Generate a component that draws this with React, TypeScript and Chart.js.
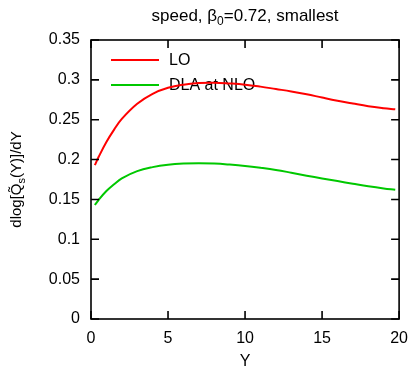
import { useEffect, useRef } from "react";
import { Chart, registerables } from "chart.js";
Chart.register(...registerables);

const FONT = '"Liberation Sans", Arial, Helvetica, sans-serif';

// Y values (horizontal axis)
const xValues = [0.25, 0.5, 1, 1.5, 2, 3, 4, 5, 6, 7, 8, 9, 10, 11, 12, 13, 14, 15, 16, 17, 18, 19, 19.75];
// LO (red)
const loValues = [0.193, 0.2035, 0.222, 0.2375, 0.251, 0.27, 0.2825, 0.29, 0.294, 0.296, 0.2965, 0.2955, 0.294, 0.2915, 0.2885, 0.2855, 0.282, 0.2778, 0.2738, 0.2703, 0.267, 0.2645, 0.263];
// DLA at NLO (green)
const dlaValues = [0.143, 0.1495, 0.1605, 0.169, 0.1765, 0.1855, 0.1905, 0.1935, 0.195, 0.1955, 0.195, 0.1937, 0.192, 0.1897, 0.187, 0.1835, 0.1798, 0.1763, 0.173, 0.1697, 0.1665, 0.1638, 0.1622];

const seriesLabels = ["LO", "DLA at NLO"];
const seriesColors = ["#ff0000", "#00c800"];
const xTicks = [0, 5, 10, 15, 20];
const yTicks = [0, 0.05, 0.1, 0.15, 0.2, 0.25, 0.3, 0.35];

const decorPlugin = {
  id: "decor",
  beforeDatasetsDraw(chart: any) {
    const { ctx, chartArea } = chart;
    ctx.save();
    // legend
    ctx.font = `16px ${FONT}`;
    ctx.textBaseline = "middle";
    ctx.textAlign = "left";
    seriesLabels.forEach((lab, i) => {
      const y = chartArea.top + 20 + i * 25;
      ctx.strokeStyle = seriesColors[i];
      ctx.lineWidth = 2;
      ctx.beginPath();
      ctx.moveTo(chartArea.left + 20, y);
      ctx.lineTo(chartArea.left + 68, y);
      ctx.stroke();
      ctx.fillStyle = "#000";
      ctx.fillText(lab, chartArea.left + 78, y + 1);
    });
    ctx.restore();
  },
  afterDraw(chart: any) {
    const { ctx, chartArea, scales } = chart;
    const { left, right, top, bottom } = chartArea;
    ctx.save();
    // frame
    ctx.strokeStyle = "#000";
    ctx.lineWidth = 1.6;
    ctx.strokeRect(left, top, right - left, bottom - top);
    // inward ticks
    const tl = 8;
    ctx.beginPath();
    xTicks.forEach((v) => {
      const px = scales.x.getPixelForValue(v);
      ctx.moveTo(px, bottom);
      ctx.lineTo(px, bottom - tl);
      ctx.moveTo(px, top);
      ctx.lineTo(px, top + tl);
    });
    yTicks.forEach((v) => {
      const py = scales.y.getPixelForValue(v);
      ctx.moveTo(left, py);
      ctx.lineTo(left + tl, py);
      ctx.moveTo(right, py);
      ctx.lineTo(right - tl, py);
    });
    ctx.stroke();

    ctx.fillStyle = "#000";
    // title: speed, β0=0.72, smallest
    const big = `17px ${FONT}`;
    const small = `12px ${FONT}`;
    const parts: [string, string, number][] = [
      ["speed, β", big, 0],
      ["0", small, 4],
      ["=0.72, smallest", big, 0],
    ];
    const drawParts = (ps: [string, string, number][], cx: number, by: number) => {
      let w = 0;
      ps.forEach(([t, f]) => {
        ctx.font = f;
        w += ctx.measureText(t).width;
      });
      let x = cx - w / 2;
      ctx.textAlign = "left";
      ctx.textBaseline = "alphabetic";
      ps.forEach(([t, f, dy]) => {
        ctx.font = f;
        ctx.fillText(t, x, by + dy);
        x += ctx.measureText(t).width;
      });
    };
    drawParts(parts, (left + right) / 2, 21);

    // x axis title
    ctx.font = `16px ${FONT}`;
    ctx.textAlign = "center";
    ctx.textBaseline = "alphabetic";
    ctx.fillText("Y", (left + right) / 2, 366);

    // y axis title
    ctx.save();
    ctx.translate(21, (top + bottom) / 2);
    ctx.rotate(-Math.PI / 2);
    const yparts: [string, string, number][] = [
      ["dlog[Q\u0303", `15px ${FONT}`, 0],
      ["s", `11px ${FONT}`, 4],
      ["(Y)]/dY", `15px ${FONT}`, 0],
    ];
    drawParts(yparts, 0, 0);
    ctx.restore();

    ctx.restore();
  },
};

export default function App() {
  const ref = useRef<HTMLCanvasElement>(null);
  useEffect(() => {
    const tickFont = { family: FONT, size: 16 };
    const chart = new Chart(ref.current!, {
      type: "line",
      data: {
        datasets: [loValues, dlaValues].map((vals, i) => ({
          label: seriesLabels[i],
          data: xValues.map((x, j) => ({ x, y: vals[j] })),
          borderColor: seriesColors[i],
          backgroundColor: seriesColors[i],
          borderWidth: 2,
          pointRadius: 0,
          fill: false,
          tension: 0.4,
        })),
      },
      options: {
        responsive: false,
        animation: false,
        layout: { padding: { top: 40, right: 11, left: 0, bottom: 0 } },
        plugins: {
          legend: { display: false },
          title: { display: false },
          tooltip: { enabled: false },
        },
        scales: {
          x: {
            type: "linear",
            min: 0,
            max: 20,
            afterBuildTicks: (s: any) => {
              s.ticks = xTicks.map((v) => ({ value: v }));
            },
            ticks: { padding: 10, color: "#000", font: tickFont, maxRotation: 0 },
            grid: { display: false, drawTicks: false },
            border: { display: false },
            afterFit: (s: any) => {
              s.height = 47;
            },
          },
          y: {
            type: "linear",
            min: 0,
            max: 0.35,
            afterBuildTicks: (s: any) => {
              s.ticks = yTicks.map((v) => ({ value: v }));
            },
            ticks: {
              padding: 11,
              color: "#000",
              font: tickFont,
              callback: (v: any) => String(+Number(v).toFixed(2)),
            },
            grid: { display: false, drawTicks: false },
            border: { display: false },
            afterFit: (s: any) => {
              s.width = 91;
            },
          },
        },
      },
      plugins: [decorPlugin],
    });
    return () => chart.destroy();
  }, []);
  return (
    <div style={{ position: "fixed", left: 0, top: 0, background: "#fff" }}>
      <canvas ref={ref} width={418} height={366} style={{ display: "block" }} />
    </div>
  );
}
